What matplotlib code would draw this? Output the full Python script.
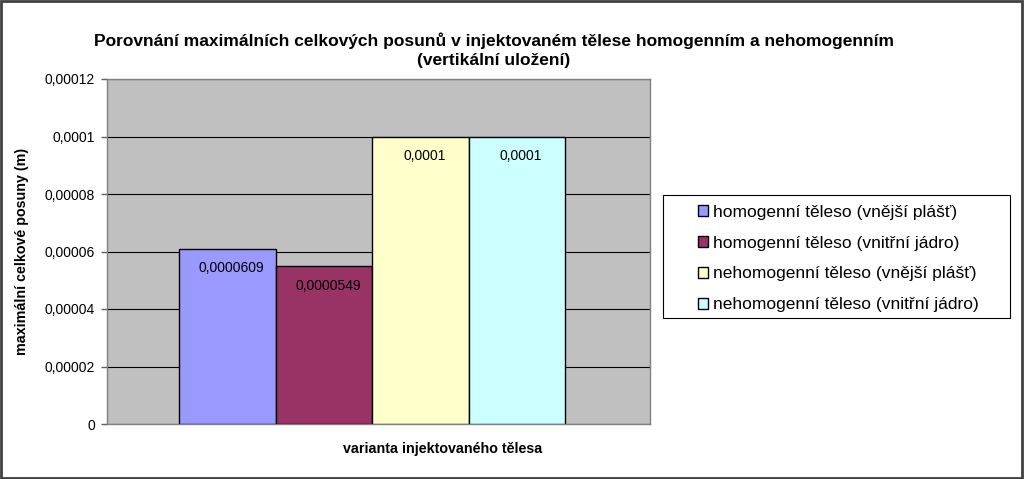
import matplotlib
matplotlib.use('Agg')
import matplotlib.pyplot as plt
from matplotlib.ticker import FixedLocator

plt.rcParams['font.family'] = ['Liberation Sans', 'DejaVu Sans']

series = ['homogenní těleso (vnější plášť)', 'homogenní těleso (vnitřní jádro)',
          'nehomogenní těleso (vnější plášť)', 'nehomogenní těleso (vnitřní jádro)']
values = [0.0000609, 0.0000549, 0.0001, 0.0001]
value_labels = ['0,0000609', '0,0000549', '0,0001', '0,0001']
colors = ['#9999FF', '#993366', '#FFFFCC', '#CCFFFF']
yticks = [0, 0.00002, 0.00004, 0.00006, 0.00008, 0.0001, 0.00012]
ytick_labels = ['0', '0,00002', '0,00004', '0,00006', '0,00008', '0,0001', '0,00012']

fig = plt.figure(figsize=(10.24, 4.79), dpi=100)
fig.patch.set_facecolor('white')
fig.patches.append(plt.Rectangle((0.001, 0.002), 0.997, 0.995, transform=fig.transFigure,
                                 fill=False, edgecolor='#404040', linewidth=2))

ax = fig.add_axes([107 / 1024, 1 - 424 / 479, (650 - 107) / 1024, (424 - 79) / 479])
ax.set_facecolor('#C0C0C0')

xs = [-1.5, -0.5, 0.5, 1.5]
for x, v, c, s in zip(xs, values, colors, series):
    ax.bar(x, v, width=1.0, color=c, edgecolor='black', linewidth=1, label=s, zorder=3)

for x, v, lab in zip(xs, values, value_labels):
    ax.annotate(lab, (x, v), xytext=(3, -14), textcoords='offset points',
                ha='center', va='center', fontsize=10, zorder=4)

ax.set_xlim(-2.746, 2.88)
ax.set_ylim(0, 0.00012)
ax.yaxis.set_major_locator(FixedLocator(yticks))
ax.set_yticklabels(ytick_labels, fontsize=10)
ax.set_xticks([])
ax.tick_params(axis='y', direction='out', length=4.5, width=1, color='#606060', pad=4)
ax.grid(axis='y', color='black', linewidth=0.8, zorder=1)
for sp in ax.spines.values():
    sp.set_color('#808080')
    sp.set_linewidth(1)

fig.text(22 / 1024, 1 - 251 / 479, 'maximální celkové posuny (m)', rotation=90,
         ha='center', va='center', fontsize=10.3, fontweight='bold')
fig.text(443 / 1024, 1 - 449 / 479, 'varianta injektovaného tělesa', ha='center', va='center',
         fontsize=10.3, fontweight='bold')
fig.text(494 / 1024, 1 - 50 / 479,
         'Porovnání maximálních celkových posunů v injektovaném tělese homogenním a nehomogenním\n(vertikální uložení)',
         ha='center', va='center', fontsize=12.5, fontweight='bold', linespacing=1.3)

# legend box drawn separately so the padding can differ per side
fig.patches.append(plt.Rectangle((663 / 1024, 1 - 318 / 479), (1010 - 663) / 1024, (318 - 195) / 479,
                                 transform=fig.transFigure, facecolor='white',
                                 edgecolor='black', linewidth=0.8))
leg = fig.legend(loc='center', bbox_to_anchor=(838 / 1024, 1 - 258.5 / 479), fontsize=12.5,
                 frameon=False, handlelength=0.6, handleheight=0.6, handletextpad=0.25,
                 labelspacing=0.92, borderpad=0, borderaxespad=0)

fig.savefig('out.png', dpi=100)
